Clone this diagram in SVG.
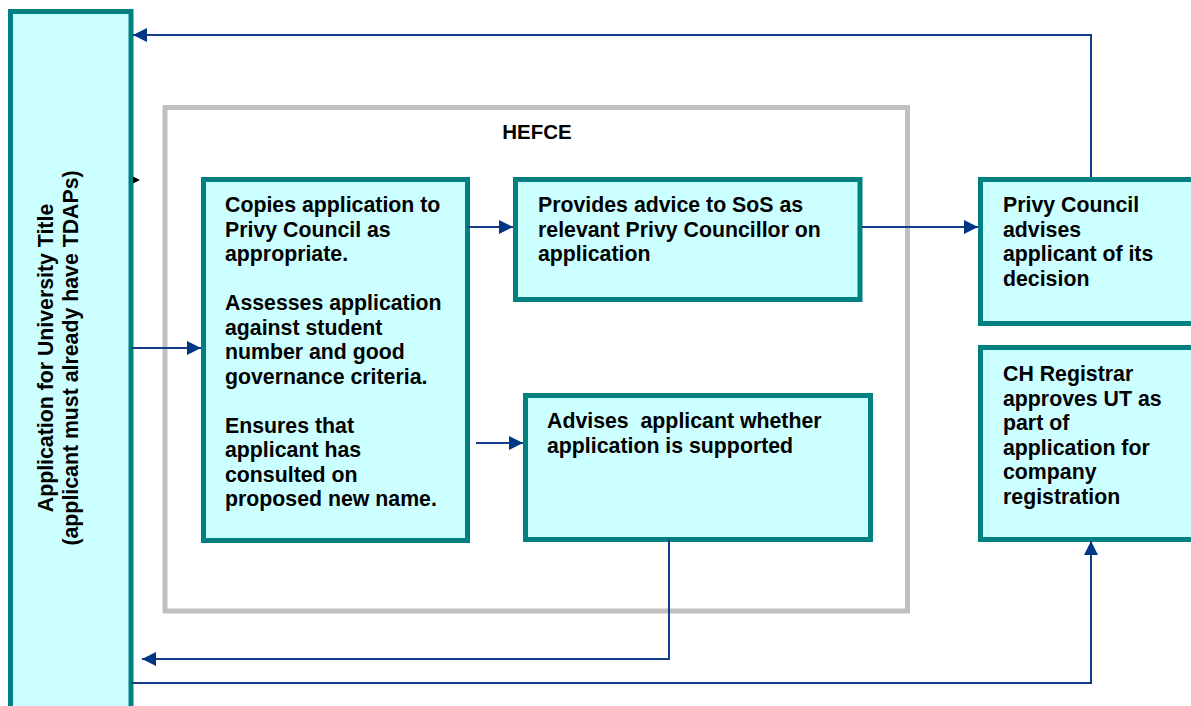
<svg xmlns="http://www.w3.org/2000/svg" width="1191" height="706" viewBox="0 0 1191 706">
<style>
.box{fill:#CCFFFF;stroke:#008080;stroke-width:5}
.frame{fill:none;stroke:#C0C0C0;stroke-width:5}
.t{font-family:"Liberation Sans",Arial,sans-serif;font-weight:bold;font-size:21.3px;fill:#000}
.c{fill:none;stroke:#133C88;stroke-width:2}
</style>
<defs>
<marker id="ah" viewBox="0 0 14 14" refX="14" refY="7" markerWidth="14" markerHeight="14" markerUnits="userSpaceOnUse" orient="auto">
<path d="M0,0 L14,7 L0,14 z" fill="#003785"/>
</marker>
</defs>
<rect width="1191" height="706" fill="#fff"/>
<g id="hefce">
<rect class="frame" x="165" y="107.5" width="742.5" height="503.5"/>
<text class="t" x="537" y="139" text-anchor="middle" style="font-size:20.5px">HEFCE</text>
</g>
<g id="applicant">
<rect class="box" x="10.5" y="11.5" width="120.5" height="700"/>
<text class="t" transform="translate(53,358) rotate(-90)" text-anchor="middle">Application for University Title</text>
<text class="t" transform="translate(78,358) rotate(-90)" text-anchor="middle">(applicant must already have TDAPs)</text>
</g>
<g id="copies">
<rect class="box" x="203.5" y="179.5" width="264" height="361"/>
<text class="t" x="225">
<tspan x="225" y="212">Copies application to</tspan>
<tspan x="225" y="236.5">Privy Council as</tspan>
<tspan x="225" y="261">appropriate.</tspan>
<tspan x="225" y="310">Assesses application</tspan>
<tspan x="225" y="334.5">against student</tspan>
<tspan x="225" y="359">number and good</tspan>
<tspan x="225" y="383.5">governance criteria.</tspan>
<tspan x="225" y="432.5">Ensures that</tspan>
<tspan x="225" y="457">applicant has</tspan>
<tspan x="225" y="481.5">consulted on</tspan>
<tspan x="225" y="506">proposed new name.</tspan>
</text>
</g>
<g id="provides">
<rect class="box" x="515.5" y="179.5" width="344.5" height="120"/>
<text class="t">
<tspan x="538" y="212">Provides advice to SoS as</tspan>
<tspan x="538" y="236.5">relevant Privy Councillor on</tspan>
<tspan x="538" y="261">application</tspan>
</text>
</g>
<g id="advises">
<rect class="box" x="525.5" y="395.5" width="345" height="144"/>
<text class="t" xml:space="preserve"><tspan x="547" y="428">Advises  applicant whether</tspan><tspan x="547" y="452.5">application is supported</tspan></text>
</g>
<g id="privy">
<rect class="box" x="980.5" y="179.5" width="220" height="144"/>
<text class="t">
<tspan x="1003" y="212">Privy Council</tspan>
<tspan x="1003" y="236.5">advises</tspan>
<tspan x="1003" y="261">applicant of its</tspan>
<tspan x="1003" y="285.5">decision</tspan>
</text>
</g>
<g id="registrar">
<rect class="box" x="980.5" y="347.5" width="220" height="192"/>
<text class="t">
<tspan x="1003" y="381">CH Registrar</tspan>
<tspan x="1003" y="405.5">approves UT as</tspan>
<tspan x="1003" y="430">part of</tspan>
<tspan x="1003" y="454.5">application for</tspan>
<tspan x="1003" y="479">company</tspan>
<tspan x="1003" y="503.5">registration</tspan>
</text>
</g>
<g id="connectors">
<path class="c" d="M1091,177 V35 H133" marker-end="url(#ah)"/>
<path class="c" d="M131,348 H201" marker-end="url(#ah)"/>
<path class="c" d="M467,227 H513" marker-end="url(#ah)"/>
<path class="c" d="M476,443 H523" marker-end="url(#ah)"/>
<path class="c" d="M862,227 H978" marker-end="url(#ah)"/>
<path class="c" d="M669,539 V659 H142" marker-end="url(#ah)"/>
<path class="c" d="M131,683 H1091 V541" marker-end="url(#ah)"/>
<polygon points="133,176.5 140,180 133,183.5" fill="#000"/>
</g>
</svg>
